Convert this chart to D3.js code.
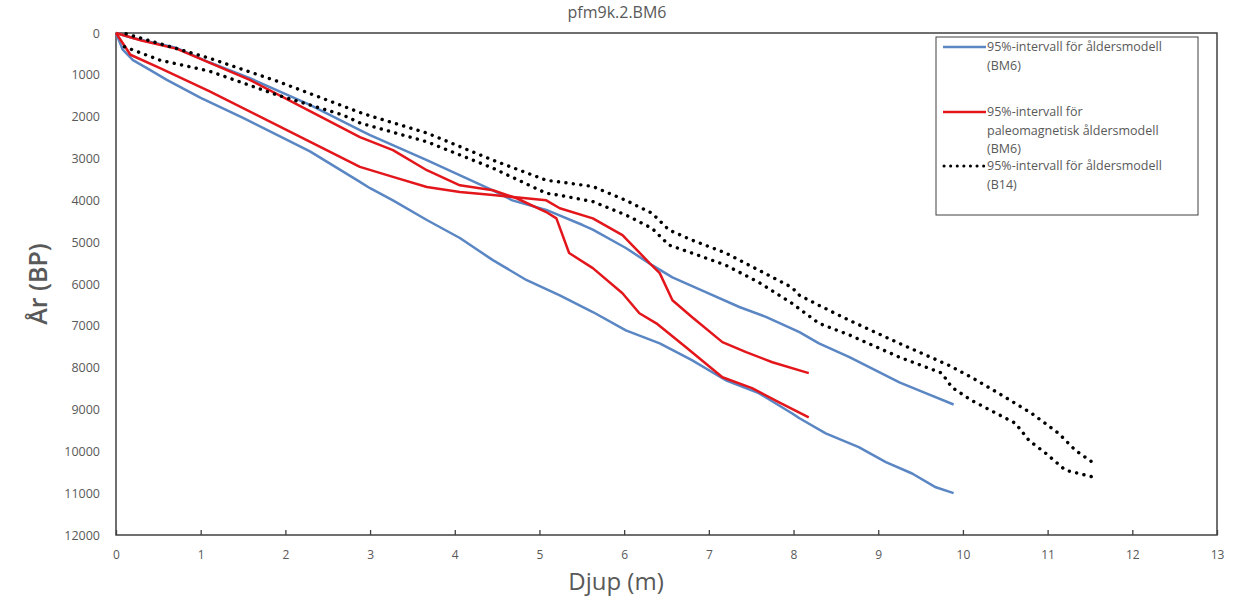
<!DOCTYPE html>
<html>
<head>
  <meta charset="utf-8">
  <title>pfm9k.2.BM6</title>
  <script src="https://cdn.jsdelivr.net/npm/d3@7"></script>
  <style>
    body { margin: 0; background: #fff; }
    text { font-family: "Open Sans", sans-serif; fill: #595959; }
  </style>
</head>
<body>
<script>
  // Djup (m) och ålder (BP)
  let blueUpper = [[0,0],[0.2,120],[0.72,360],[1.1,700],[1.58,1080],[2.29,1720],[2.88,2320],[3.0,2440],
    [3.67,3040],[4.45,3760],[4.68,4000],[5.08,4230],[5.51,4590],[5.63,4700],[6.02,5140],[6.33,5550],
    [6.57,5840],[6.97,6200],[7.36,6550],[7.68,6790],[8.07,7150],[8.3,7420],[8.66,7750],[9.25,8350],
    [9.56,8610],[9.89,8880]];
  let blueLower = [[0,0],[0.08,400],[0.2,650],[0.4,880],[0.6,1120],[1.0,1550],[1.5,2030],[2.29,2830],[2.88,3560],[3.0,3710],
    [3.27,4000],[3.67,4470],[4.06,4900],[4.45,5430],[4.85,5910],[5.24,6270],[5.63,6670],[6.02,7110],
    [6.42,7420],[6.8,7820],[7.2,8300],[7.59,8610],[7.98,9090],[8.07,9210],[8.38,9570],[8.77,9900],
    [9.09,10260],[9.4,10530],[9.68,10860],[9.89,11000]];
  let redA = [[0,0],[0.3,180],[0.72,380],[1.58,1120],[2.29,1870],[2.88,2490],[3.27,2800],[3.67,3280],
    [4.06,3640],[4.45,3760],[4.73,3950],[5.08,4280],[5.2,4430],[5.35,5260],[5.63,5620],[5.98,6220],
    [6.18,6700],[6.38,6940],[6.73,7510],[7.16,8230],[7.51,8490],[7.83,8830],[8.18,9190]];
  let redB = [[0,0],[0.17,520],[0.52,840],[1.1,1390],[1.9,2200],[2.88,3200],[3.27,3440],[3.67,3680],
    [4.06,3800],[4.45,3870],[5.08,4000],[5.24,4190],[5.63,4430],[5.98,4830],[6.3,5500],[6.42,5740],
    [6.57,6390],[6.8,6790],[7.16,7390],[7.44,7630],[7.75,7870],[8.18,8130]];
  let dotUpper = [[0.12,20],[1.1,600],[1.9,1150],[2.88,1900],[3.0,1980],[3.67,2390],[4.45,3040],
    [5.08,3520],[5.24,3560],[5.63,3670],[6.02,4000],[6.33,4310],[6.53,4710],[6.8,4950],[7.2,5260],
    [7.59,5670],[7.98,6080],[8.07,6270],[8.3,6510],[8.66,6870],[9.25,7420],[9.83,7940],[10.1,8230],
    [10.42,8610],[10.81,9090],[11.13,9570],[11.33,9980],[11.55,10290]];
  let dotLower = [[0.1,330],[0.52,650],[1.1,910],[1.9,1480],[2.68,1960],[2.88,2150],[3.67,2600],
    [4.45,3230],[5.08,3830],[5.24,3880],[5.63,4030],[6.02,4350],[6.33,4670],[6.53,5070],[6.8,5260],
    [7.2,5550],[7.59,5960],[7.98,6460],[8.3,6940],[8.66,7220],[9.25,7750],[9.75,8130],[9.87,8470],
    [10.1,8780],[10.62,9330],[10.78,9740],[10.98,10050],[11.21,10450],[11.55,10620]];

  let xTicks = d3.range(0, 14);
  let yTicks = d3.range(0, 12001, 1000);
  let legendLabels = [
    ['95%-intervall för åldersmodell', '(BM6)'],
    ['95%-intervall för', 'paleomagnetisk åldersmodell', '(BM6)'],
    ['95%-intervall för åldersmodell', '(B14)']
  ];

  let width = 1233;
  let height = 598;
  let plotLeft = 116, plotRight = 1217, plotTop = 33, plotBottom = 535;

  let svg = d3.select('body').append('svg')
    .attr('width', width)
    .attr('height', height);

  let x = d3.scaleLinear().domain([0, 13]).range([plotLeft, plotRight]);
  let y = d3.scaleLinear().domain([0, 12000]).range([plotTop, plotBottom]);

  svg.append('text')
    .attr('x', 617).attr('y', 18)
    .attr('text-anchor', 'middle')
    .style('font-size', '16px')
    .text('pfm9k.2.BM6');

  // axlar
  let xAxis = svg.append('g')
    .attr('transform', `translate(0, ${plotBottom})`)
    .call(d3.axisBottom(x).tickValues(xTicks).tickSize(-5).tickPadding(15));
  xAxis.select('.domain').remove();
  xAxis.selectAll('line').attr('stroke', '#404040').attr('stroke-width', 1.3);
  xAxis.selectAll('text').style('font-size', '12px').attr('fill', '#595959');

  let yAxis = svg.append('g')
    .attr('transform', `translate(${plotLeft}, 0)`)
    .call(d3.axisLeft(y).tickValues(yTicks).tickFormat(d3.format('d')).tickSize(0).tickPadding(16));
  yAxis.select('.domain').remove();
  yAxis.selectAll('text').style('font-size', '12.5px').attr('fill', '#595959');

  svg.append('rect')
    .attr('x', plotLeft).attr('y', plotTop)
    .attr('width', plotRight - plotLeft).attr('height', plotBottom - plotTop)
    .attr('fill', 'none')
    .attr('stroke', '#404040')
    .attr('stroke-width', 1.5);

  svg.append('text')
    .attr('x', 616).attr('y', 590)
    .attr('text-anchor', 'middle')
    .style('font-size', '24px')
    .text('Djup (m)');

  svg.append('text')
    .attr('transform', 'translate(47, 284) rotate(-90)')
    .attr('text-anchor', 'middle')
    .style('font-size', '25px')
    .style('font-weight', '600')
    .text('År (BP)');

  // kurvor
  let line = d3.line().x(d => x(d[0])).y(d => y(d[1]));
  let series = [
    { data: blueUpper, color: '#5a86c3', dash: null },
    { data: blueLower, color: '#5a86c3', dash: null },
    { data: redA, color: '#e3161b', dash: null },
    { data: redB, color: '#e3161b', dash: null },
    { data: dotUpper, color: '#000', dash: '0.1,7.4' },
    { data: dotLower, color: '#000', dash: '0.1,7.4' }
  ];
  svg.selectAll('path.serie').data(series).enter()
    .append('path')
    .attr('class', 'serie')
    .attr('d', d => line(d.data))
    .attr('fill', 'none')
    .attr('stroke', d => d.color)
    .attr('stroke-width', d => d.dash ? 3.4 : 2.5)
    .attr('stroke-dasharray', d => d.dash)
    .attr('stroke-linecap', d => d.dash ? 'round' : 'butt')
    .attr('stroke-linejoin', 'round');

  // legend
  let lg = svg.append('g');
  lg.append('rect')
    .attr('x', 936).attr('y', 37)
    .attr('width', 262).attr('height', 178)
    .attr('fill', '#fff')
    .attr('stroke', '#404040')
    .attr('stroke-width', 1);

  let legendY = [47, 112, 166];
  let legendStyle = [series[0], series[2], series[4]];
  legendLabels.forEach((lines, i) => {
    let s = legendStyle[i];
    lg.append('line')
      .attr('x1', s.dash ? 944 : 943).attr('x2', 986)
      .attr('y1', legendY[i]).attr('y2', legendY[i])
      .attr('stroke', s.color)
      .attr('stroke-width', s.dash ? 3 : 2.5)
      .attr('stroke-dasharray', s.dash ? '0.1,6.5' : null)
      .attr('stroke-linecap', s.dash ? 'round' : 'butt');
    lines.forEach((t, j) => {
      lg.append('text')
        .attr('x', 987).attr('y', legendY[i] + j * 18.5)
        .attr('dy', '0.35em')
        .style('font-size', '12.5px')
        .text(t);
    });
  });
</script>
</body>
</html>
